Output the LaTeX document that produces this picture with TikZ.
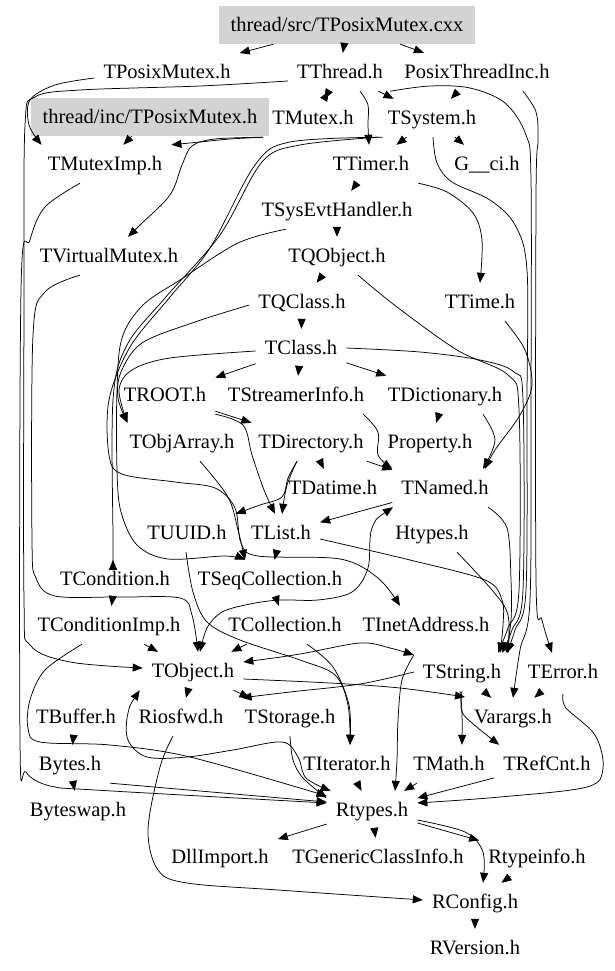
\documentclass[tikz,border=0pt]{standalone}
\usepackage{fontspec}
\setmainfont{Liberation Serif}
\usetikzlibrary{arrows.meta}
\definecolor{boxgray}{RGB}{211,211,211}
\begin{document}
\begin{tikzpicture}[x=1pt,y=-1pt,
  lbl/.style={font=\fontsize{20.5}{24}\selectfont, inner xsep=9pt, inner ysep=0pt,
              text height=15pt, text depth=1.4pt, minimum height=38pt},
  gbox/.style={lbl, fill=boxgray, inner xsep=12pt},
  ed/.style={draw=black, line width=0.75pt, -{Triangle[length=10pt,width=8pt]}},
  edd/.style={draw=black, line width=0.75pt, {Triangle[length=10pt,width=8pt]}-{Triangle[length=10pt,width=8pt]}},
  sm/.style={smooth, tension=0.55}]
\useasboundingbox (0,0) rectangle (614,971);
% nodes
\node[gbox] (cxx) at (347,25) {thread/src/TPosixMutex.cxx};
\node[lbl] (posixh) at (167,72) {TPosixMutex.h};
\node[lbl] (thread) at (340,72) {TThread.h};
\node[lbl] (pti) at (477,72) {PosixThreadInc.h};
\node[gbox] (incbox) at (150,117) {thread/inc/TPosixMutex.h};
\node[lbl] (mutex) at (313,118) {TMutex.h};
\node[lbl] (system) at (432,118) {TSystem.h};
\node[lbl] (muteximp) at (105,164) {TMutexImp.h};
\node[lbl] (timer) at (371,164) {TTimer.h};
\node[lbl] (gci) at (487,164) {G\_\_ci.h};
\node[lbl] (sysevt) at (337,210) {TSysEvtHandler.h};
\node[lbl] (vmutex) at (109,256) {TVirtualMutex.h};
\node[lbl] (qobject) at (337,256) {TQObject.h};
\node[lbl] (qclass) at (302,302) {TQClass.h};
\node[lbl] (ttime) at (480,302) {TTime.h};
\node[lbl] (tclass) at (301,348) {TClass.h};
\node[lbl] (troot) at (165,395) {TROOT.h};
\node[lbl] (sinfo) at (296,395) {TStreamerInfo.h};
\node[lbl] (dict) at (445,395) {TDictionary.h};
\node[lbl] (objarray) at (182,442) {TObjArray.h};
\node[lbl] (dir) at (311,442) {TDirectory.h};
\node[lbl] (prop) at (430,442) {Property.h};
\node[lbl] (datime) at (333,488) {TDatime.h};
\node[lbl] (named) at (445,488) {TNamed.h};
\node[lbl] (uuid) at (187,533) {TUUID.h};
\node[lbl] (list) at (281,533) {TList.h};
\node[lbl] (htypes) at (432,533) {Htypes.h};
\node[lbl] (cond) at (115,579) {TCondition.h};
\node[lbl] (seqcol) at (270,579) {TSeqCollection.h};
\node[lbl] (condimp) at (109,625) {TConditionImp.h};
\node[lbl] (coll) at (285,625) {TCollection.h};
\node[lbl] (inet) at (426,625) {TInetAddress.h};
\node[lbl] (object) at (193,671) {TObject.h};
\node[lbl] (string) at (462,672) {TString.h};
\node[lbl] (error) at (563,672) {TError.h};
\node[lbl] (buffer) at (76,717) {TBuffer.h};
\node[lbl] (riosfwd) at (181,717) {Riosfwd.h};
\node[lbl] (storage) at (290,717) {TStorage.h};
\node[lbl] (varargs) at (513,717) {Varargs.h};
\node[lbl] (bytes) at (70,764) {Bytes.h};
\node[lbl] (iter) at (347,764) {TIterator.h};
\node[lbl] (math) at (449,764) {TMath.h};
\node[lbl] (refcnt) at (547,764) {TRefCnt.h};
\node[lbl] (byteswap) at (78,810) {Byteswap.h};
\node[lbl] (rtypes) at (372,810) {Rtypes.h};
\node[lbl] (dll) at (220,857) {DllImport.h};
\node[lbl] (gci2) at (378,857) {TGenericClassInfo.h};
\node[lbl] (rtypeinfo) at (537,857) {Rtypeinfo.h};
\node[lbl] (rconfig) at (475,902) {RConfig.h};
\node[lbl] (rversion) at (475,948) {RVersion.h};
% straight edges
\draw[ed] (cxx) -- (posixh);
\draw[ed] (cxx) -- (thread);
\draw[ed] (cxx) -- (pti);
\draw[ed] (incbox) -- (muteximp);
\draw[ed] (thread) -- (mutex);
\draw[ed] (mutex) -- (thread);
\draw[ed] (thread) -- (system);
\draw[ed] (pti) -- (system);
\draw[ed] (system) -- (timer);
\draw[ed] (system) -- (gci);
\draw[ed] (timer) -- (sysevt);
\draw[ed] (sysevt) -- (qobject);
\draw[ed] (qobject) -- (qclass);
\draw[ed] (qclass) -- (tclass);
\draw[ed] (tclass) -- (troot);
\draw[ed] (tclass) -- (sinfo);
\draw[ed] (tclass) -- (dict);
\draw[ed] (dict) -- (prop);
\draw[ed] (troot) -- (dir);
\draw[ed] (dir) -- (datime);
\draw[ed] (dir) -- (named);
\draw[ed] (named) -- (list);
\draw[ed] (list) -- (seqcol);
\draw[ed] (seqcol) -- (coll);
\draw[ed] (coll) -- (object);
\draw[ed] (cond) -- (condimp);
\draw[ed] (condimp) -- (object);
\draw[ed] (object) -- (riosfwd);
\draw[ed] (object) -- (storage);
\draw[ed] (string) -- (varargs);
\draw[ed] (error) -- (varargs);
\draw[ed] (buffer) -- (bytes);
\draw[ed] (bytes) -- (byteswap);
\draw[ed] (bytes.south east) -- ([yshift=8]rtypes.west);
\draw[ed] (iter) -- (rtypes);
\draw[ed] (math) -- (rtypes);
\draw[ed] (refcnt) -- (rtypes);
\draw[ed] (rtypes) -- (dll);
\draw[ed] (rtypes) -- (gci2);
\draw[ed] (rtypes) -- (rtypeinfo);
\draw[ed] (rtypeinfo) -- (rconfig);
\draw[ed] (rconfig) -- (rversion);
% curved edges
\draw[ed] plot[sm] coordinates {([yshift=-6]posixh.west) (55,85) (30,100) (29,125) ([xshift=3]muteximp.north west)};
\draw[ed] plot[sm] coordinates {([yshift=-9]thread.west) (200,86) (80,90) (35,97) (25,125) (24,300) (24,600) (30,645) (70,662) ([yshift=3]object.west)};
\draw[ed] plot[sm] coordinates {(mutex.south west) (230,139) (200,142) (muteximp.north east)};
\draw[ed] plot[sm] coordinates {(mutex.south west) (215,139) (192,146) (182,165) (170,195) (140,225) ([xshift=19]vmutex.north)};
\draw[ed] plot[sm] coordinates {([xshift=20]thread.south) (368,105) (368,125) ([xshift=-2]timer.north)};
\draw[ed] plot[sm] coordinates {([xshift=-2]thread.south east) (430,86) (470,88) (505,103) (526,135) (531,180) (531,400) (530,600) (520,650) (varargs.north)};
\draw[ed] plot[sm] coordinates {([xshift=46]pti.south) (536,112) (538,140) (536,200) (536,580) (542,620) ([xshift=-11]error.north)};
\draw[ed] plot[sm] coordinates {([xshift=1]system.south) (437,163) (452,182) (490,200) (515,225) (527,270) (527,400) (526,590) (515,630) ([xshift=45]string.north)};
\draw[ed] plot[sm] coordinates {([xshift=21]qobject.south) (397,307) (457,350) (508,375) (519,410) (519,590) (508,628) ([xshift=36]string.north)};
\draw[ed] plot[sm] coordinates {(tclass.east) (420,352) (480,360) (514,372) (523,400) (523,590) (512,630) ([xshift=40]string.north)};
\draw[ed] plot[sm] coordinates {([xshift=25]ttime.south) (525,350) (532,385) (520,415) (495,450) ([xshift=40]named.north)};
\draw[ed] plot[sm] coordinates {([xshift=38]dict.south) (495,440) ([xshift=38]named.north)};
\draw[ed] plot[sm] coordinates {([xshift=-10]sinfo.south east) (378,432) (378,455) (named.north west)};
\draw[ed] plot[sm] coordinates {(troot.south east) (243,425) (252,455) (264,490) ([xshift=-6]list.north)};
\draw[ed] plot[sm] coordinates {([xshift=-14]dir.south) (287,485) ([xshift=1]list.north)};
\draw[ed] plot[sm] coordinates {([xshift=-14]dir.south) (288,478) (282,497) (260,505) (uuid.north east)};
\draw[ed] plot[sm] coordinates {([xshift=18]objarray.south) (228,497) (238,530) ([xshift=-25]seqcol.north)};
\draw[ed] plot[sm] coordinates {([xshift=-51]sysevt.south) (238,243) (180,280) (143,305) (122,338) (117,390) (117,470) (121,512) (137,545) (168,559) (225,556) ([xshift=-25]seqcol.north)};
\draw[ed] plot[sm] coordinates {([yshift=-3]qclass.west) (195,322) (142,343) (121,372) (118,398) ([xshift=7]objarray.north west)};
\draw[ed] plot[sm] coordinates {([yshift=-3]tclass.west) (170,358) (132,370) (119,390) ([xshift=7]objarray.north west)};
\draw[ed] plot[sm] coordinates {(system.south west) (300,145) (262,162) (220,235) (165,298) (127,345) (113,400) (113,540) ([xshift=-2]cond.north)};
\draw[ed] plot[sm] coordinates {([xshift=4]system.south west) (290,142) (255,165) (210,248) (170,297) (130,347) (109,400) (109,455) (122,474) (175,482) (215,488) (235,508) (241,543) (258,556) (340,559) (378,578) ([xshift=-26]inet.north)};
\draw[ed] plot[sm] coordinates {([xshift=-29]vmutex.south) (45,292) (33,335) (32,540) (36,578) (55,596) (120,597) (180,598) (192,615) ([xshift=5]object.north)};
\draw[ed] plot[sm] coordinates {([xshift=-25]muteximp.south) (45,207) (30,240) (21,290) (20,740) (26,772) (50,786) (95,790) ([yshift=7]rtypes.west)};
\draw[ed] plot[sm] coordinates {([xshift=-27]condimp.south) (45,670) (30,700) (28,728) (40,742) (110,745) (190,757) ([yshift=14]rtypes.west)};
\draw[ed] plot[sm] coordinates {([xshift=-1]uuid.south) (193,592) (207,622) (240,640) (300,660) (335,675) (348,705) ([xshift=3]iter.north)};
\draw[edd] plot[sm] coordinates {([xshift=-3]object.south west) (128,713) (128,740) (147,757) (187,757) (233,750) (282,742) (298,757) (306,778) ([xshift=4]rtypes.north west)};
\draw[ed] plot[sm] coordinates {(storage.south) (293,760) (303,778) ([yshift=12]rtypes.west)};
\draw[ed] plot[sm] coordinates {([xshift=22]coll.south) (333,667) (349,705) ([xshift=3]iter.north)};
\draw[ed] plot[sm] coordinates {([yshift=-3]error.south) (566,708) (595,735) (603,768) (587,787) (500,797) ([yshift=7]rtypes.east)};
\draw[ed] plot[sm] coordinates {([xshift=-2]string.south) (462,712) ([xshift=13]math.north)};
\draw[ed] plot[sm] coordinates {(string.south) (462,712) (478,728) ([xshift=5]refcnt.north west)};
\draw[ed] plot[sm] coordinates {([yshift=17]string.west) (402,680) (398,720) (397,760) ([xshift=23]rtypes.north)};
\draw[edd] plot[sm] coordinates {([yshift=9]object.east) (300,654) (360,643) (390,648) ([yshift=17]string.west)};
\draw[ed] plot[sm] coordinates {([yshift=-8]object.east) (330,683) (400,688) ([yshift=20]varargs.west)};
\draw[ed] plot[sm] coordinates {(string.west) (360,684) (290,692) ([xshift=6]storage.north west)};
\draw[edd] plot[sm] coordinates {([xshift=-52]named.south) (372,528) (368,568) (352,592) (318,600) (280,600) (250,604) (222,612) (207,628) ([xshift=7]object.north)};
\draw[ed] plot[sm] coordinates {([yshift=-6]list.east) (410,560) (485,580) (502,600) (503,625) ([xshift=38]string.north)};
\draw[ed] plot[sm] coordinates {([xshift=25]htypes.south) (492,590) (508,615) ([xshift=46]string.north)};
\draw[ed] plot[sm] coordinates {([xshift=43]named.south) (507,528) (511,580) (511,620) ([xshift=44]string.north)};
\draw[ed] plot[sm] coordinates {([xshift=-8]riosfwd.south) (160,767) (148,830) (158,870) (187,883) (278,890) ([yshift=2]rconfig.west)};
\draw[ed] plot[sm] coordinates {([yshift=-10]rtypes.east) (465,832) (483,852) ([xshift=8]rconfig.north)};
\draw[ed] plot[sm] coordinates {(timer.south east) (447,192) (473,213) (482,240) (ttime.north)};
\end{tikzpicture}
\end{document}
